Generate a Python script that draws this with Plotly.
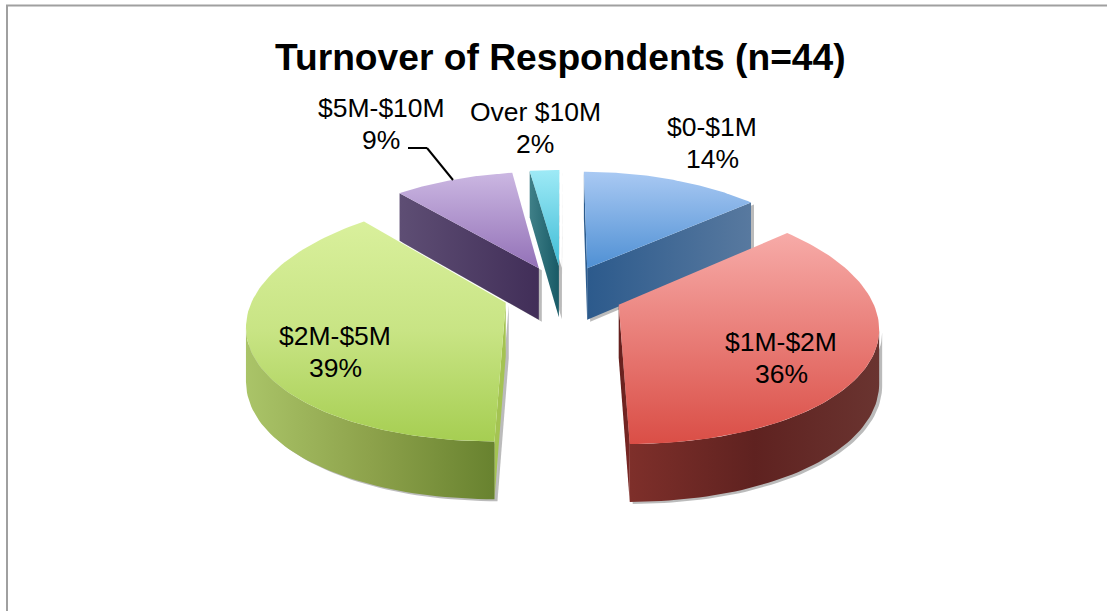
import numpy as np
import plotly.graph_objects as go

# ---- data ----
categories = ["$0-$1M", "$1M-$2M", "$2M-$5M", "$5M-$10M", "Over $10M"]
respondents = [6, 16, 17, 4, 1]          # n = 44
percent_labels = ["14%", "36%", "39%", "9%", "2%"]
title_text = "Turnover of Respondents (n=44)"

# ---- styles ----
top_colors = [["#4f90d4", "#a9c9f3"], ["#da4e46", "#f7aba8"], ["#a6ce52", "#c8e484", "#d9f09c"],
              ["#9371b7", "#cbb7e2"], ["#3fbcd6", "#9eeaf6"]]
cut_start = [["#2c5c8e", "#2c5c8e"], ["#2c5c8e", "#2c5c8e"], ["#a4c352", "#a4c352"],
             ["#5e4e74", "#412e58"], ["#3f8088", "#185a66"]]
cut_end = [["#2c5a8c", "#58799f"], ["#641f1d", "#7a2825"], ["#a4c352", "#a4c352"],
           ["#412e58", "#412e58"], ["#185a66", "#185a66"]]
outer_colors = [["#4f7ca8", "#4f7ca8"], ["#7e2f2a", "#5f2220", "#6a3430"], ["#aac468", "#8da24b", "#68822f"],
                ["#5e4e74", "#5e4e74"], ["#3f8088", "#3f8088"]]
draw_order = [3, 4, 0, 2, 1]
label_xy = [(712, 143), (781, 358), (335, 352), (381, 124), (535, 128)]
SHADOW = "rgba(105,105,105,0.45)"

# ---- projection of the exploded pie ----
CX, CY, RX, RY, KX, KY, EXPL = 563, 293, 251, 116.3, 0.163, 0.139, 0.24


def project(x, z):
    return CX + RX * x / (1 + KX * z), CY - RY * z / (1 + KY * z)


def wall(z):
    return 52.5 - 5 * z


fig = go.Figure()


def scale(colors):
    n = len(colors) - 1
    return [[k / n, c] for k, c in enumerate(colors)]


def poly(xs, ys, colors, kind):
    fig.add_trace(go.Scatter(
        x=list(xs) + [xs[0]], y=list(ys) + [ys[0]], mode="lines", fill="toself",
        line=dict(width=0), hoverinfo="skip", showlegend=False,
        fillgradient=dict(type=kind, colorscale=scale(colors)),
    ))


def shadow(xs, ys):
    fig.add_trace(go.Scatter(
        x=[v + 3 for v in xs] + [xs[0] + 3], y=[v + 2 for v in ys] + [ys[0] + 2], mode="lines",
        fill="toself", fillcolor=SHADOW, line=dict(width=0), hoverinfo="skip", showlegend=False,
    ))


cum = np.concatenate([[0], np.cumsum(respondents)]) / sum(respondents) * 2 * np.pi

for i in draw_order:
    a0, a1 = cum[i], cum[i + 1]
    mid = (a0 + a1) / 2
    ox, oz = EXPL * np.sin(mid), EXPL * np.cos(mid)
    th = np.linspace(a0, a1, 90)
    rx, rz = ox + np.sin(th), oz + np.cos(th)
    px, py = project(rx, rz)
    ax, ay = project(ox, oz)
    ah = wall(oz)
    rh = wall(rz)
    faces = []
    if px[0] < ax:
        faces.append(([ax, px[0], px[0], ax], [ay, py[0], py[0] + rh[0], ay + ah], cut_start[i]))
    if px[-1] > ax:
        faces.append(([ax, px[-1], px[-1], ax], [ay, py[-1], py[-1] + rh[-1], ay + ah], cut_end[i]))
    vis = np.where(np.diff(px) < 0)[0]
    if len(vis):
        j0, j1 = vis[0], vis[-1] + 1
        wx = px[j0:j1 + 1]
        wy = py[j0:j1 + 1]
        wb = wy + rh[j0:j1 + 1]
        faces.append((list(np.r_[wx, wx[::-1]]), list(np.r_[wy, wb[::-1]]), outer_colors[i]))
    for xs, ys, _ in faces:
        shadow(xs, ys)
    for xs, ys, c in faces:
        poly(xs, ys, c, "horizontal")
    poly(np.r_[ax, px], np.r_[ay, py], top_colors[i], "vertical")

annotations = []
for c, p, (x, y) in zip(categories, percent_labels, label_xy):
    for text, yy in ((c, y - 16), (p, y + 16)):
        annotations.append(dict(x=x, y=yy, text=text, showarrow=False, xanchor="center", yanchor="middle",
                                font=dict(family="Liberation Sans", size=26.5, color="black")))
annotations.append(dict(x=560, y=57, text=f"<b>{title_text}</b>", showarrow=False,
                        xanchor="center", yanchor="middle",
                        font=dict(family="Liberation Sans", size=37.2, color="black")))

fig.update_layout(
    width=1107, height=611, margin=dict(l=0, r=0, t=0, b=0),
    paper_bgcolor="white", plot_bgcolor="white", showlegend=False,
    xaxis=dict(range=[0, 1107], visible=False, fixedrange=True),
    yaxis=dict(range=[611, 0], visible=False, fixedrange=True),
    annotations=annotations,
    shapes=[
        dict(type="line", x0=7, x1=7, y0=5, y1=611, line=dict(color="#a0a0a0", width=2)),
        dict(type="line", x0=6, x1=1107, y0=5.5, y1=5.5, line=dict(color="#a0a0a0", width=2)),
        dict(type="line", x0=408, x1=427, y0=148, y1=148, line=dict(color="black", width=2)),
        dict(type="line", x0=427, x1=453, y0=148, y1=180, line=dict(color="black", width=2)),
    ],
)
fig.write_html("out.html", config={"displayModeBar": False},
               post_script="document.body.style.margin='0';document.documentElement.style.overflow='hidden';")
